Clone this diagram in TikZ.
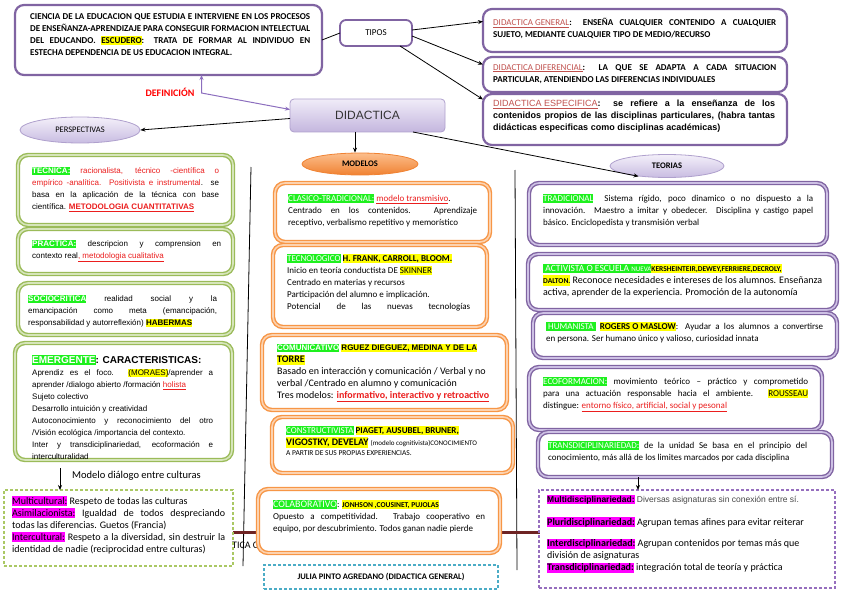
\documentclass[tikz,border=0pt]{standalone}
\usepackage{fontspec}
\setmainfont{Carlito}
\newfontfamily\arial{Liberation Sans}
\usetikzlibrary{shapes.geometric,arrows.meta,calc}
\hyphenpenalty=10000
\exhyphenpenalty=10000
\tolerance=10000
\definecolor{hlgreen}{RGB}{30,240,30}
\definecolor{hlyellow}{RGB}{255,255,0}
\definecolor{hlmag}{RGB}{255,0,255}
\definecolor{redt}{RGB}{235,30,30}
\definecolor{dred}{RGB}{192,80,77}
\definecolor{purp}{RGB}{128,100,162}
\definecolor{purpl}{RGB}{205,192,228}
\definecolor{grn}{RGB}{155,187,89}
\definecolor{grnl}{RGB}{214,229,186}
\definecolor{orng}{RGB}{247,150,70}
\definecolor{orngl}{RGB}{252,210,175}
\definecolor{brwn}{RGB}{110,35,35}
\definecolor{dashgreen}{RGB}{170,200,100}
\definecolor{dashblue}{RGB}{75,172,198}
\definecolor{dashpurp}{RGB}{150,110,190}
\definecolor{lnpurp}{RGB}{140,110,190}
\definecolor{ell1}{RGB}{244,240,250}
\definecolor{ell2}{RGB}{200,188,225}
\definecolor{ellb}{RGB}{175,160,205}
\definecolor{did1}{RGB}{240,236,248}
\definecolor{did2}{RGB}{196,182,222}
\definecolor{org1}{RGB}{252,190,140}
\definecolor{org2}{RGB}{240,130,50}
\newcommand\setfs[2]{\fontsize{#1}{#2}\selectfont}
\newcommand\hs{\rule[-0.22em]{0pt}{1.02em}}
\newcommand\hlg[1]{{\setlength{\fboxsep}{0pt}\colorbox{hlgreen}{\hs\textcolor{white}{#1}}}}
\newcommand\hly[1]{{\setlength{\fboxsep}{0pt}\colorbox{hlyellow}{\hs #1}}}
\newcommand\hlm[1]{{\setlength{\fboxsep}{0pt}\colorbox{hlmag}{\hs #1}}}
\newcommand\rdu[1]{\textcolor{redt}{\underline{#1}}}
\newcommand\dru[1]{\textcolor{dred}{\underline{\mdseries #1}}}
\begin{document}
\begin{tikzpicture}[x=1pt,y=-1pt,
  purplebox/.style={draw=purp, line width=2.2pt, rounded corners=9pt, fill=white},
  greenbox/.style={draw=grn, line width=1.4pt, double=grnl, double distance=1.6pt, rounded corners=10pt, fill=white},
  orangebox/.style={draw=orng, line width=1.4pt, double=orngl, double distance=1.6pt, rounded corners=10pt, fill=white},
  violetbox/.style={draw=purp, line width=1.4pt, double=purpl, double distance=1.6pt, rounded corners=10pt, fill=white},
  boxat/.style={anchor=north west, inner sep=0pt, outer sep=0pt},
  txt/.style={inner sep=0pt, anchor=north west, align=justify},
  ltxt/.style={inner sep=0pt, anchor=north west, align=left},
  arr/.style={-{Stealth[length=5pt,width=4pt]}, line width=0.8pt, black},
  parr/.style={{Stealth[length=5pt,width=4pt]}-{Stealth[length=5pt,width=4pt]}, line width=1pt, lnpurp},
  plain/.style={line width=0.8pt, black},
  oval/.style={ellipse, draw=ellb, line width=0.8pt, top color=ell1, bottom color=ell2, inner sep=0pt},
]
\useasboundingbox (0,0) rectangle (848,599);

% background lines
\coordinate (vla) at (251,167);
\coordinate (vlb) at (243,566);
\coordinate (vra) at (515,170);
\coordinate (vrb) at (517,570);
\coordinate (bla) at (233,532);
\coordinate (blb) at (540,532);
\draw[plain] (vla) -- (vlb);
\draw[plain] (vra) -- (vrb);
\draw[line width=3pt, brwn] (bla) -- (blb);
\node[anchor=west, inner sep=0pt] (tica) at (232,545) {\setfs{10}{12}TICA C};

% ---------- top ----------
\node[purplebox, boxat, minimum width=307, minimum height=70] (defbox) at (15,5) {};
\node[txt, text width=280] (deftxt) at (30,13) {\bfseries\setfs{9}{13.2}CIENCIA DE LA EDUCACION QUE ESTUDIA E INTERVIENE EN LOS PROCESOS\linebreak DE ENSEÑANZA-APRENDIZAJE PARA CONSEGUIR FORMACION INTELECTUAL\linebreak DEL EDUCANDO. \hly{ESCUDERO}: TRATA DE FORMAR AL INDIVIDUO EN\linebreak ESTECHA DEPENDENCIA DE US EDUCACION INTEGRAL.};

\node[purplebox, line width=1.8pt, rounded corners=6pt, boxat, minimum width=72, minimum height=26] (tipos) at (340,20) {\setfs{9}{11}TIPOS};

\node[purplebox, boxat, minimum width=304, minimum height=43] (dgen) at (483,9) {};
\node[txt, text width=283] (dgentxt) at (493,18) {\bfseries\setfs{9}{13}\dru{DIDACTICA GENERAL}: ENSEÑA CUALQUIER CONTENIDO A CUALQUIER\linebreak SUJETO, MEDIANTE CUALQUIER TIPO DE MEDIO/RECURSO};
\node[purplebox, boxat, minimum width=304, minimum height=35] (ddif) at (483,57) {};
\node[txt, text width=283] (ddiftxt) at (493,64) {\bfseries\setfs{9}{13.5}\dru{DIDACTICA DIFERENCIAL}: LA QUE SE ADAPTA A CADA SITUACION\linebreak PARTICULAR, ATENDIENDO LAS DIFERENCIAS INDIVIDUALES};
\node[purplebox, boxat, minimum width=304, minimum height=51] (desp) at (483,94) {};
\node[txt, text width=282] (desptxt) at (493,100) {\arial\bfseries\setfs{9}{11.8}\dru{DIDACTICA ESPECIFICA}: se refiere a la enseñanza de los\linebreak contenidos propios de las disciplinas particulares, (habra tantas\linebreak didácticas especificas como disciplinas académicas)};

\node[boxat, draw=ellb, line width=0.8pt, rounded corners=4pt, top color=did1, bottom color=did2, minimum width=155, minimum height=33] (did) at (290,99) {\arial\setfs{12}{14}\color{black!80}DIDACTICA};
\node[inner sep=0pt] (defin) at (170,92) {\bfseries\setfs{10}{12}\color{red}DEFINICIÓN};

\node[oval, minimum width=120, minimum height=26] (persp) at (80,130) {\setfs{8.5}{10}PERSPECTIVAS};
\node[ellipse, draw=org2, line width=0.8pt, top color=org1, bottom color=org2, inner sep=0pt, minimum width=116, minimum height=22] (modelos) at (360,164) {\bfseries\setfs{8.5}{10}MODELOS};
\node[oval, minimum width=114, minimum height=23] (teorias) at (667,166) {\bfseries\setfs{8.5}{10}TEORIAS};

% ---------- left column ----------
\node[greenbox, boxat, minimum width=215, minimum height=70] (tec) at (18,155) {};
\node[txt, text width=187] (tectxt) at (32,167) {\arial\setfs{8}{10.5}\hlg{\bfseries TECNICA:} \textcolor{redt}{racionalista, técnico -científica o\linebreak empírico -analítica. Positivista e instrumental}. se\linebreak basa en la aplicación de la técnica con base\linebreak científica. \rdu{\bfseries METODOLOGIA CUANTITATIVAS}};
\node[greenbox, boxat, minimum width=215, minimum height=45] (prac) at (18,229) {};
\node[txt, text width=189] (practxt) at (32,240) {\arial\setfs{8}{11}\hlg{\bfseries PRACTICA:} descripcion y comprension en\linebreak contexto real\rdu{, metodologia cualitativa}};
\node[greenbox, boxat, minimum width=215, minimum height=52] (socio) at (18,283) {};
\node[txt, text width=189] (sociotxt) at (28,295) {\arial\setfs{8}{11.5}\hlg{\bfseries SOCIOCRITICA} realidad social y la\linebreak emancipación como meta (emancipación,\linebreak responsabilidad y autorreflexión) \hly{\bfseries HABERMAS}};
\node[greenbox, boxat, minimum width=217, minimum height=117] (emerg) at (15,343) {};
\node[ltxt] (emergh) at (32,355) {\arial\bfseries\setfs{10}{12}\hlg{EMERGENTE}: CARACTERISTICAS:};
\node[txt, text width=181] (emergtxt) at (32,369) {\arial\setfs{8}{9.4}Aprendiz es el foco. \hly{(MORAES)}/aprender a\linebreak aprender /dialogo abierto /formación \rdu{holista}\\ Sujeto colectivo\\ Desarrollo intuición y creatividad\\ Autoconocimiento y reconocimiento del otro\linebreak /Visión ecológica /importancia del contexto.\\ Inter y transdiciplinariedad, ecoformación e\linebreak interculturalidad};
\node[anchor=west, inner sep=0pt] (dialogo) at (72,476) {\setfs{10.5}{12}Modelo diálogo entre culturas};
\node[boxat, draw=dashgreen, line width=1.1pt, dash pattern=on 3pt off 2pt, minimum width=229, minimum height=76] (multi) at (4,490) {};
\node[txt, text width=213] (multitxt) at (12,496) {\setfs{10}{14}\hlm{Multicultural:} Respeto de todas las culturas\\ \hlm{Asimilacionista:} Igualdad de todos despreciando\linebreak todas las diferencias. Guetos (Francia)\\ \hlm{Intercultural:} Respeto a la diversidad, sin destruir la\linebreak identidad de nadie (reciprocidad entre culturas)};

% ---------- middle column ----------
\node[orangebox, boxat, minimum width=215, minimum height=59] (clas) at (275,183) {};
\node[txt, text width=189] (clastxt) at (288,194) {\setfs{9}{12.5}\hlg{CLASICO-TRADICIONAL:} \rdu{modelo transmisivo}.\\ Centrado en los contenidos. Aprendizaje\linebreak receptivo, verbalismo repetitivo y memorístico};
\node[orangebox, boxat, minimum width=214, minimum height=82] (tecno) at (273,245) {};
\node[txt, text width=183] (tecnotxt) at (287,254) {\setfs{9}{12.7}\hlg{TECNOLOGICO} \hly{\bfseries H. FRANK, CARROLL, BLOOM.}\\ Inicio en teoría conductista DE \hly{SKINNER}\\ Centrado en materias y recursos\\ Participación del alumno e implicación.\\ Potencial\hfill de\hfill las\hfill nuevas\hfill tecnologías};
\node[orangebox, boxat, minimum width=245, minimum height=75] (comu) at (262,335) {};
\node[ltxt] (comutxt) at (277,344) {\arial\setfs{8}{10.8}\hlg{\bfseries COMUNICATIVO} \hly{\bfseries RGUEZ DIEGUEZ, MEDINA Y DE LA}\\ \hly{\bfseries TORRE}\\ Basado en interacción y comunicación / Verbal y no\\ verbal /Centrado en alumno y comunicación\\ Tres modelos: \rdu{\bfseries informativo, interactivo y retroactivo}};
\node[orangebox, boxat, minimum width=241, minimum height=56] (constr) at (272,417) {};
\node[ltxt] (constrtxt) at (286,426) {\setfs{9}{14}\hlg{CONSTRUCTIVISTA} \hly{\bfseries PIAGET, AUSUBEL, BRUNER,}\\ \hly{\bfseries VIGOSTKY, DEVELAY} {\setfs{7}{9}(modelo cognitivista)CONOCIMIENTO}\\[-2pt] {\setfs{7.5}{9}A PARTIR DE SUS PROPIAS EXPERIENCIAS.}};
\node[orangebox, boxat, minimum width=242, minimum height=64] (colab) at (258,489) {};
\node[txt, text width=212] (colabtxt) at (273,500) {\setfs{9}{11.7}\hlg{\setfs{10}{12}COLABORATIVO}: \hly{\bfseries\setfs{7.5}{9}JONHSON ,COUSINET, PUJOLAS}\\ Opuesto a competitividad. Trabajo cooperativo en\linebreak equipo, por descubrimiento. Todos ganan nadie pierde};
\node[boxat, draw=dashblue, line width=1.1pt, dash pattern=on 3pt off 2pt, minimum width=234, minimum height=24] (julia) at (264,565) {\bfseries\setfs{8.5}{10}JULIA PINTO AGREDANO (DIDACTICA GENERAL)};

% ---------- right column ----------
\node[violetbox, boxat, minimum width=298, minimum height=62] (trad) at (529,183) {};
\node[txt, text width=270] (tradtxt) at (543,194) {\setfs{9}{13}\hlg{TRADICIONAL}\ \ Sistema rígido, poco dinamico o no dispuesto a la\linebreak innovación. Maestro a imitar y obedecer. Disciplina y castigo papel\linebreak básico. Enciclopedista y transmisión verbal};
\node[violetbox, boxat, minimum width=309, minimum height=56] (activ) at (528,254) {};
\node[ltxt] (activtxt) at (543,264) {\setfs{9}{12.5}\hlg{\setfs{9.5}{12} ACTIVISTA O ESCUELA {\setfs{7}{9}NUEVA}}\hly{\bfseries\setfs{7.5}{9}KERSHEINTEIR,DEWEY,FERRIERE,DECROLY,}\\ \hly{\bfseries\setfs{7.5}{9}DALTON.} Reconoce necesidades e intereses de los alumnos. Enseñanza\\ activa, aprender de la experiencia. Promoción de la autonomía};
\node[violetbox, boxat, minimum width=304, minimum height=45] (human) at (533,313) {};
\node[txt, text width=277] (humantxt) at (546,322) {\setfs{9}{15.5}\hlg{\ HUMANISTA\ } \hly{\bfseries ROGERS O MASLOW}: Ayudar a los alumnos a convertirse\linebreak en persona. Ser humano único y valioso, curiosidad innata};
\node[violetbox, boxat, minimum width=293, minimum height=63] (ecof) at (529,367) {};
\node[txt, text width=265] (ecoftxt) at (543,377) {\setfs{9}{13.5}\hlg{ECOFORMACION:} movimiento teórico – práctico y comprometido\linebreak para una actuación responsable hacia el ambiente. \hly{ROUSSEAU}\linebreak distingue: \rdu{entorno físico, artificial, social y pesonal}};
\node[violetbox, boxat, minimum width=294, minimum height=45] (trans) at (538,432) {};
\node[txt, text width=259] (transtxt) at (548,441) {\setfs{9}{11.5}\hlg{TRANSDICIPLINARIEDAD:} de la unidad Se basa en el principio del\linebreak conocimiento, más allá de los limites marcados por cada disciplina};
\node[boxat, draw=dashpurp, line width=1.1pt, dash pattern=on 3pt off 2pt, minimum width=296, minimum height=98] (mdis) at (539,490) {};
\node[ltxt] (mdistxt) at (547,495) {\arial\setfs{8.5}{10.5}\color{black!72}\hlm{\textcolor{black}{\bfseries Multidisciplinariedad:}} Diversas asignaturas sin conexión entre sí.\\[11pt] \hlm{\textcolor{black}{\bfseries Pluridisciplinariedad:}} Agrupan temas afines para evitar reiterar\\[9.5pt] \hlm{\textcolor{black}{\bfseries Interdisciplinariedad:}} Agrupan contenidos por temas más que\\ división de asignaturas\\ \hlm{\textcolor{black}{\bfseries Transdiciplinariedad:}} integración total de teoría y práctica};

% ---------- connectors ----------
\draw[plain] (defbox.east) -- (tipos.west);
\draw[arr] ([yshift=3pt]tipos.east) -- ([yshift=9pt]dgen.west);
\draw[arr] ([yshift=-3pt]tipos.east) -- ([yshift=10pt]ddif.west);
\draw[arr] ([xshift=24pt]tipos.south) -- ([yshift=20pt]desp.west);
\draw[parr] ([xshift=33pt]defbox.south) -- ++(0,18) -- ([yshift=6pt]did.west);
\draw[arr] ([yshift=-3pt]did.west) -- (persp.east);
\draw[arr] ([xshift=-12.5pt]did.south) -- ([xshift=-5pt]modelos.north);
\draw[arr] ([xshift=-32pt]did.south east) -- (teorias.200);
\draw[arr] ([xshift=-63.5pt,yshift=-8pt]emerg.south) -- ([xshift=-58.5pt]multi.north);
\draw[arr] ([xshift=-47pt]trans.south) -- ([xshift=-49pt]mdis.north);
\end{tikzpicture}
\end{document}
